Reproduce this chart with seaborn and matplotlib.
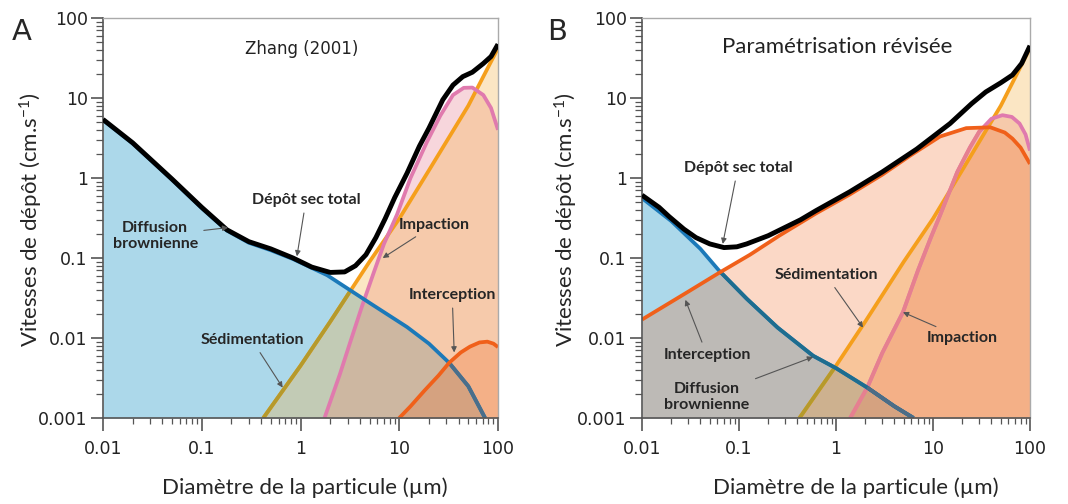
import matplotlib
matplotlib.use("Agg")
import numpy as np
import matplotlib.pyplot as plt
import seaborn as sns
from matplotlib.ticker import LogLocator, NullFormatter

# particle diameter (um) / deposition velocity (cm/s)
# --- panel A : Zhang (2001)
a_diff_d = [0.01, 0.02, 0.05, 0.1, 0.18, 0.3, 0.5, 0.84, 1.86, 5.0, 12, 20, 32, 50, 74]
a_diff_v = [5.3, 2.7, 0.95, 0.42, 0.22, 0.155, 0.125, 0.097, 0.061, 0.0275, 0.0137, 0.0085, 0.0049, 0.0025, 0.001]
a_sed_d = [0.42, 1, 2, 5, 10, 20, 50, 100]
a_sed_v = [0.001, 0.0045, 0.016, 0.09, 0.31, 1.25, 8, 42]
a_imp_d = [1.75, 2.5, 3.2, 4.2, 5.5, 7, 9.5, 13, 19, 26, 35, 45, 55, 71, 85, 100]
a_imp_v = [0.001, 0.0035, 0.009, 0.025, 0.065, 0.15, 0.35, 1.0, 2.8, 6.0, 10.9, 13.4, 13.5, 10.9, 7.5, 4.0]
a_int_d = [10, 13, 18, 25, 32, 42, 52, 65, 78, 90, 100]
a_int_v = [0.001, 0.0014, 0.0022, 0.0034, 0.0049, 0.0066, 0.0078, 0.0088, 0.009, 0.0085, 0.0077]
a_tot_d = [0.01, 0.02, 0.05, 0.1, 0.18, 0.3, 0.5, 0.84, 1.3, 2.0, 2.8, 3.6, 4.6, 5.8, 7.2, 9, 12, 16, 20, 27.6, 35, 44, 55, 71, 85, 100]
a_tot_v = [5.4, 2.75, 0.97, 0.43, 0.225, 0.16, 0.13, 0.1, 0.077, 0.066, 0.067, 0.08, 0.11, 0.18, 0.31, 0.57, 1.15, 2.5, 4.2, 9.5, 14.5, 18.5, 21, 27, 33, 47]

# --- panel B : revised parametrisation
b_diff_d = [0.01, 0.02, 0.04, 0.062, 0.12, 0.25, 0.58, 1, 2.1, 4, 6.3]
b_diff_v = [0.56, 0.29, 0.13, 0.07, 0.031, 0.0135, 0.006, 0.0042, 0.0024, 0.0014, 0.001]
b_sed_d = [0.42, 1, 2, 5, 10, 20, 50, 100]
b_sed_v = [0.001, 0.0045, 0.016, 0.09, 0.31, 1.25, 8, 42]
b_imp_d = [1.4, 2.1, 3, 4.9, 7, 9.5, 11.8, 17.8, 24, 30, 40, 52, 65, 78, 90, 100]
b_imp_v = [0.001, 0.0024, 0.0065, 0.021, 0.07, 0.18, 0.34, 1.19, 2.4, 3.8, 5.5, 6.1, 5.8, 4.8, 3.5, 2.2]
b_int_d = [0.01, 0.03, 0.062, 0.13, 0.26, 0.62, 1.38, 3, 5.8, 11.8, 22, 39, 55, 66, 80, 100]
b_int_v = [0.017, 0.038, 0.065, 0.11, 0.19, 0.36, 0.62, 1.1, 1.9, 3.3, 4.2, 4.3, 3.7, 3.1, 2.4, 1.5]
b_tot_d = [0.01, 0.015, 0.019, 0.027, 0.036, 0.05, 0.07, 0.095, 0.12, 0.2, 0.43, 0.62, 1.38, 3, 6.8, 15, 25, 35, 50, 66, 82, 100]
b_tot_v = [0.61, 0.43, 0.33, 0.23, 0.18, 0.15, 0.135, 0.138, 0.15, 0.19, 0.3, 0.39, 0.67, 1.19, 2.3, 4.8, 8.5, 11.9, 15.5, 19.4, 27, 45]

x_ticks = [0.01, 0.1, 1, 10, 100]
x_tick_labels = ["0.01", "0.1", "1", "10", "100"]
y_ticks = [0.001, 0.01, 0.1, 1, 10, 100]
y_tick_labels = ["0.001", "0.01", "0.1", "1", "10", "100"]
V_MIN, V_MAX = 0.001, 100
D_MIN, D_MAX = 0.01, 100

C_BLUE = "#1b79b9"
C_SED = "#f59f1c"
C_PINK = "#e07aae"
C_RED = "#f0601a"

LABEL_FONT = ["Lato", "DejaVu Sans"]

sns.set_style("ticks")
plt.rcParams["font.family"] = ["DejaVu Sans"]
plt.rcParams["mathtext.default"] = "regular"


def fill_under(ax, d, v, color, alpha, z):
    return ax.fill_between(d, v, V_MIN, color=color, alpha=alpha, lw=0, zorder=z)


def curve(ax, d, v, color, lw=2.7, z=2, clip=None):
    sns.lineplot(x=d, y=v, ax=ax, color=color, lw=lw, zorder=z,
                 estimator=None, sort=False, solid_capstyle="butt")
    line = ax.lines[-1]
    if clip is not None:
        line.set_clip_path(clip.get_paths()[0], ax.transData)
    return line


def setup_axes(ax):
    ax.set_xscale("log")
    ax.set_yscale("log")
    ax.set_xlim(D_MIN, D_MAX)
    ax.set_ylim(V_MIN, V_MAX)
    ax.set_xticks(x_ticks, labels=x_tick_labels)
    ax.set_yticks(y_ticks, labels=y_tick_labels)
    ax.xaxis.set_minor_locator(LogLocator(base=10, subs=np.arange(2, 10)))
    ax.yaxis.set_minor_locator(LogLocator(base=10, subs=np.arange(2, 10)))
    ax.xaxis.set_minor_formatter(NullFormatter())
    ax.yaxis.set_minor_formatter(NullFormatter())
    ax.tick_params(which="major", length=9, width=1.2, color="#555555",
                   labelsize=12.5, labelcolor="#222222")
    ax.tick_params(axis="x", which="major", pad=7)
    ax.tick_params(axis="y", which="major", pad=2)
    ax.tick_params(axis="x", which="minor", length=4, width=0.9, color="#555555")
    ax.tick_params(axis="y", which="minor", length=5, width=0.9, color="#555555")
    for side in ["left", "bottom"]:
        ax.spines[side].set_color("#555555")
        ax.spines[side].set_linewidth(1.2)
    for side in ["top", "right"]:
        ax.spines[side].set_visible(True)
        ax.spines[side].set_color("#aaaaaa")
        ax.spines[side].set_linewidth(1.0)
    ax.set_xlabel("Diamètre de la particule (µm)", fontsize=16, family=LABEL_FONT)
    ax.set_ylabel("Vitesses de dépôt (cm.s$^{-1}$)", fontsize=16, family=LABEL_FONT)


def note(ax, text, xytext, xy):
    ax.annotate(text, xy=xy, xycoords="data", xytext=xytext, textcoords="axes fraction",
                ha="center", va="center", fontsize=11.5, fontweight="bold",
                family=LABEL_FONT, zorder=5, linespacing=1.25,
                arrowprops=dict(arrowstyle="-|>", color="#555555", lw=0.8,
                                mutation_scale=8, shrinkA=2, shrinkB=0))


fig = plt.figure(figsize=(10.68, 5.04), dpi=100)
ax_a = fig.add_axes([103 / 1068, 86 / 504, 395 / 1068, 400 / 504])
ax_b = fig.add_axes([642 / 1068, 86 / 504, 388 / 1068, 400 / 504])

# ---------------- panel A
setup_axes(ax_a)
blue_a = fill_under(ax_a, a_diff_d, a_diff_v, "#acd8ea", 1.0, 1.0)
pink_a = fill_under(ax_a, a_imp_d, a_imp_v, "#e6788c", 0.3, 1.1)
sed_a = fill_under(ax_a, a_sed_d, a_sed_v, "#f5af3c", 0.3, 1.2)
int_a = fill_under(ax_a, a_int_d, a_int_v, "#f0641e", 0.25, 1.3)

curve(ax_a, a_sed_d, a_sed_v, C_SED, z=2.0)
curve(ax_a, a_sed_d, a_sed_v, "#b59a2c", z=2.01, clip=blue_a)
curve(ax_a, a_imp_d, a_imp_v, C_PINK, z=2.1)
curve(ax_a, a_diff_d, a_diff_v, C_BLUE, z=2.2)
curve(ax_a, a_diff_d, a_diff_v, "#4a6e8a", z=2.21, clip=int_a)
curve(ax_a, a_int_d, a_int_v, C_RED, z=2.3)
curve(ax_a, a_tot_d, a_tot_v, "black", lw=3.5, z=3)

ax_a.text(0.504, 0.922, "Zhang (2001)", transform=ax_a.transAxes, ha="center",
          va="center", fontsize=12, color="#222222")
note(ax_a, "Dépôt sec total", (0.514, 0.545), (0.92, 0.105))
note(ax_a, "Diffusion\nbrownienne", (0.132, 0.455), (0.185, 0.24))
note(ax_a, "Impaction", (0.838, 0.4825), (6.8, 0.1))
note(ax_a, "Interception", (0.884, 0.3075), (36, 0.0066))
note(ax_a, "Sédimentation", (0.377, 0.195), (0.66, 0.0024))
ax_a.yaxis.set_label_coords(-0.148, 0.495)
ax_a.xaxis.set_label_coords(0.511, -0.148)

# ---------------- panel B
setup_axes(ax_b)
blue_b = fill_under(ax_b, b_diff_d, b_diff_v, "#acd8ea", 1.0, 1.0)
pink_b = fill_under(ax_b, b_imp_d, b_imp_v, "#e6788c", 0.3, 1.1)
sed_b = fill_under(ax_b, b_sed_d, b_sed_v, "#f5af3c", 0.3, 1.2)
int_b = fill_under(ax_b, b_int_d, b_int_v, "#f0641e", 0.25, 1.3)

curve(ax_b, b_sed_d, b_sed_v, C_SED, z=2.0)
curve(ax_b, b_sed_d, b_sed_v, "#b59a2c", z=2.01, clip=blue_b)
curve(ax_b, b_imp_d, b_imp_v, C_PINK, z=2.1)
curve(ax_b, b_imp_d, b_imp_v, "#e6808f", z=2.11, clip=int_b)
curve(ax_b, b_diff_d, b_diff_v, C_BLUE, z=2.2)
curve(ax_b, b_diff_d, b_diff_v, "#1e6d8f", z=2.21, clip=int_b)
curve(ax_b, b_diff_d, b_diff_v, "#4d6c86", z=2.22, clip=pink_b)
curve(ax_b, b_int_d, b_int_v, C_RED, z=2.3)
curve(ax_b, b_tot_d, b_tot_v, "black", lw=3.5, z=3)

ax_b.text(0.503, 0.9275, "Paramétrisation révisée", transform=ax_b.transAxes,
          ha="center", va="center", fontsize=16, family=LABEL_FONT, color="#222222")
note(ax_b, "Dépôt sec total", (0.247, 0.625), (0.068, 0.15))
note(ax_b, "Sédimentation", (0.474, 0.3575), (1.9, 0.0135))
note(ax_b, "Impaction", (0.825, 0.2), (4.9, 0.021))
note(ax_b, "Interception", (0.1675, 0.1575), (0.028, 0.03))
note(ax_b, "Diffusion\nbrownienne", (0.1675, 0.0525), (0.58, 0.0058))
ax_b.yaxis.set_label_coords(-0.16, 0.495)
ax_b.xaxis.set_label_coords(0.55, -0.148)

fig.text(22 / 1068, 1 - 32 / 504, "A", fontsize=21, ha="center", va="center")
fig.text(557 / 1068, 1 - 32 / 504, "B", fontsize=21, ha="center", va="center")

fig.savefig("out.png", dpi=100)
